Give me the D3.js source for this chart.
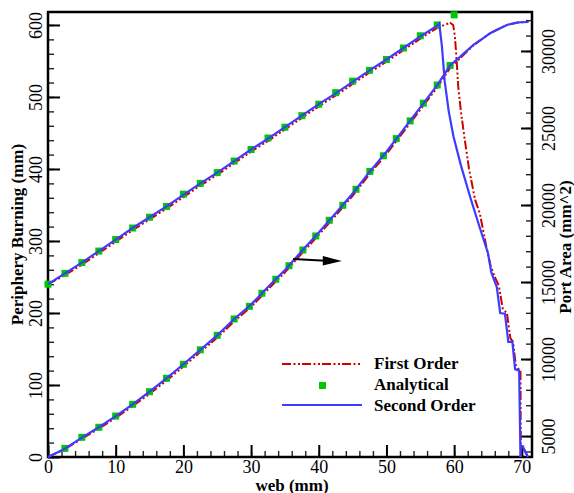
<!DOCTYPE html>
<html>
<head>
<meta charset="utf-8">
<script src="https://cdn.jsdelivr.net/npm/d3@7"></script>
<style>
body{margin:0;background:#fff;}
svg{display:block;}
text{font-family:"Liberation Serif","Times New Roman",serif;fill:#000;}
</style>
</head>
<body>
<svg id="burnChart" width="574" height="493"></svg>
<script>
// analytical squares, periphery (left axis)
var analyticBurnWeb = [0, 2.5, 5, 7.5, 10, 12.5, 15, 17.5, 20, 22.5, 25, 27.5, 30, 32.5, 35, 37.5, 40, 42.5, 45, 47.5, 50, 52.5, 55, 57.5, 60];
var analyticBurn = [240, 255, 270, 286, 302, 318, 333, 348, 365, 380, 395, 411, 427, 443, 458, 474, 490, 506, 522, 537, 552, 568, 585, 600, 614];

// analytical squares, port area (right axis)
var analyticAreaWeb = [2.5, 5, 7.5, 10, 12.5, 15, 17.5, 20, 22.5, 25, 27.5, 29.75, 31.6, 33.65, 35.6, 37.65, 39.55, 41.55, 43.55, 45.5, 47.55, 49.55, 51.45, 53.5, 55.45, 57.5, 59.4];
var analyticArea = [4200, 4920, 5570, 6300, 7060, 7880, 8750, 9660, 10600, 11540, 12600, 13420, 14270, 15180, 16060, 17080, 17990, 19010, 19980, 21020, 22180, 23200, 24310, 25460, 26610, 27790, 29060];

// second order, periphery
var secondBurnWeb = [0, 2.5, 5, 7.5, 10, 12.5, 15, 17.5, 20, 22.5, 25, 27.5, 30, 32.5, 35, 37.5, 40, 42.5, 45, 47.5, 50, 52.5, 55, 57.5, 57.8, 58.2, 58.6, 59.2, 59.9, 61.0, 62.4, 63.8, 65.0, 65.5, 66.3, 66.8, 67.5, 68.0, 68.6, 69.0, 69.6, 69.8, 69.85, 70.1, 70.9];
var secondBurn = [240, 255, 270, 286, 302, 318, 333, 348, 364, 380, 395, 411, 427, 442, 458, 474, 490, 505, 521, 537, 552, 568, 584, 599, 602, 570, 522, 480, 445, 405, 360, 318, 283, 256, 236, 200, 199, 160, 160, 122, 120, 0, 15, 15, 0];

// first order, periphery
var firstBurnWeb = [0, 2.5, 5, 7.5, 10, 12.5, 15, 17.5, 20, 22.5, 25, 27.5, 30, 32.5, 35, 37.5, 40, 42.5, 45, 47.5, 50, 52.5, 55, 57.5, 59.4, 59.85, 60.1, 60.3, 60.6, 61.0, 61.5, 62.2, 63.1, 63.8, 64.8, 65.4, 66.0, 66.6, 67.2, 67.8, 68.3, 68.7, 69.1, 69.6, 69.8, 69.85, 69.9, 70.1, 70.9];
var firstBurn = [240, 252.5, 267, 283, 299, 315, 330, 345, 361, 377, 392, 408, 424, 439, 455, 471, 487, 502, 518, 534, 549, 565, 581, 596, 603, 600, 585, 560, 515, 480, 445, 400, 357, 338, 290, 265, 250, 238, 205, 200, 165, 160, 128, 121, 119, 0, 15, 15, 0];

// second order, port area
var secondAreaWeb = [0, 2.5, 5, 7.5, 10, 12.5, 15, 17.5, 20, 22.5, 25, 27.5, 30, 32.5, 35, 37.5, 40, 42.5, 45, 47.5, 50, 52.5, 55, 57.5, 59.4, 60.9, 62.85, 64.3, 65.3, 66.8, 67.8, 69.3, 69.8, 71];
var secondArea = [3640, 4180, 4900, 5570, 6290, 7060, 7880, 8750, 9660, 10600, 11540, 12600, 13540, 14670, 15780, 17010, 18210, 19470, 20750, 22150, 23460, 24890, 26340, 27780, 29060, 29630, 30390, 30830, 31150, 31480, 31690, 31840, 31865, 31880];

// first order, port area
var firstAreaWeb = [0, 2.5, 5, 7.5, 10, 12.5, 15, 17.5, 20, 22.5, 25, 27.5, 30, 32.5, 35, 37.5, 40, 42.5, 45, 47.5, 50, 52.5, 55, 57.5, 59.4, 60.9, 62.85, 64.3, 65.3, 66.8, 67.8, 69.3, 69.8, 71];
var firstArea = [3640, 4150, 4830, 5480, 6180, 6940, 7740, 8600, 9510, 10450, 11390, 12450, 13390, 14520, 15630, 16860, 18060, 19320, 20600, 22000, 23310, 24740, 26190, 27630, 28900, 29540, 30370, 30830, 31150, 31480, 31690, 31840, 31865, 31880];

// arrow pointing to the right axis curve: [web, area]
var arrowFrom = [36.2, 16490];
var arrowTo = [43.4, 16360];

var legendLabels = ["First Order", "Analytical", "Second Order"];

class burnChart{
  constructor(){
    this.margins = {left:48, right:42, top:12, bottom:36};
    this.width = 574 - this.margins.left - this.margins.right;
    this.height = 493 - this.margins.top - this.margins.bottom;
    this.svg = d3.select("#burnChart");
    this.canvas = this.svg.append("g")
      .attr("transform", "translate(" + this.margins.left + "," + this.margins.top + ")");

    this.x = d3.scaleLinear().domain([0, 71.5]).range([0, this.width]);
    this.yLeft = d3.scaleLinear().domain([0, 618]).range([this.height, 0]);
    this.yRight = d3.scaleLinear().domain([3640, 32530]).range([this.height, 0]);
  }

  axes(){
    var c = this.canvas, w = this.width, h = this.height;

    // minor ticks
    c.append("g").attr("class","minor")
      .attr("transform","translate(0," + h + ")")
      .call(d3.axisBottom(this.x).tickValues(d3.range(0, 71, 2)).tickSize(-6).tickFormat(""));
    c.append("g").attr("class","minor")
      .call(d3.axisLeft(this.yLeft).tickValues(d3.range(0, 619, 20)).tickSize(-6).tickFormat(""));
    c.append("g").attr("class","minor")
      .attr("transform","translate(" + w + ",0)")
      .call(d3.axisRight(this.yRight).tickValues(d3.range(4000, 32600, 1000)).tickSize(-6).tickFormat(""));

    // major ticks + labels
    var bx = c.append("g").attr("class","major")
      .attr("transform","translate(0," + h + ")")
      .call(d3.axisBottom(this.x).tickValues(d3.range(0, 71, 10)).tickSize(-12).tickFormat(d3.format("d")));
    bx.selectAll("text").attr("y", 16).attr("dy", null);

    var ly = c.append("g").attr("class","major")
      .call(d3.axisLeft(this.yLeft).tickValues(d3.range(0, 601, 100)).tickSize(-12).tickFormat(d3.format("d")));
    ly.selectAll("text").attr("x", null).attr("dy", null)
      .attr("text-anchor","middle")
      .attr("transform","translate(-6,0) rotate(-90)");

    var ry = c.append("g").attr("class","major")
      .attr("transform","translate(" + w + ",0)")
      .call(d3.axisRight(this.yRight).tickValues(d3.range(5000, 30001, 5000)).tickSize(-11).tickFormat(d3.format("d")));
    ry.selectAll("text").attr("x", null).attr("dy", null)
      .attr("text-anchor","middle")
      .attr("transform","translate(23,0) rotate(-90)");

    c.selectAll(".domain").remove();
    c.selectAll(".major").attr("font-family", null).attr("font-size", null);
    c.selectAll(".major text").style("font-size","18px").style("font-family",'"Liberation Serif",serif');
    c.selectAll(".major line").style("stroke","#000").style("stroke-width",2);
    c.selectAll(".minor line").style("stroke","#222").style("stroke-width",1.4);

    c.append("rect")
      .attr("width", w).attr("height", h)
      .style("fill","none").style("stroke","#000").style("stroke-width",2.5);

    // titles
    this.svg.append("text")
      .attr("transform","translate(23," + (this.margins.top + h/2) + ") rotate(-90)")
      .attr("text-anchor","middle")
      .style("font-size","17px").style("font-weight","bold")
      .text("Periphery Burning (mm)");
    this.svg.append("text")
      .attr("transform","translate(571,247) rotate(-90)")
      .attr("text-anchor","middle")
      .style("font-size","17px").style("font-weight","bold")
      .text("Port Area (mm^2)");
    this.svg.append("text")
      .attr("x", 292).attr("y", 491)
      .attr("text-anchor","middle")
      .style("font-size","17px").style("font-weight","bold")
      .text("web (mm)");
  }

  series(){
    var plot = this;
    var c = this.canvas;
    var zip = function(a, b){ return a.map(function(d, i){ return [d, b[i]]; }); };

    var lineLeft = d3.line()
      .x(function(d){ return plot.x(d[0]); })
      .y(function(d){ return plot.yLeft(d[1]); });
    var lineRight = d3.line()
      .x(function(d){ return plot.x(d[0]); })
      .y(function(d){ return plot.yRight(d[1]); });

    var red = "#d00000", blue = "#3c3cff", green = "#00c800";
    var dash = "9,2.5,2,2.5,2,2";

    c.append("path").datum(zip(firstBurnWeb, firstBurn))
      .attr("d", lineLeft)
      .style("fill","none").style("stroke",red).style("stroke-width",2).style("stroke-dasharray",dash);
    c.append("path").datum(zip(firstAreaWeb, firstArea))
      .attr("d", lineRight)
      .style("fill","none").style("stroke",red).style("stroke-width",2).style("stroke-dasharray",dash);

    c.selectAll(".sqBurn").data(zip(analyticBurnWeb, analyticBurn)).enter()
      .append("rect").attr("class","sqBurn")
      .attr("x", function(d){ return plot.x(d[0]) - 3.5; })
      .attr("y", function(d){ return plot.yLeft(d[1]) - 3.5; })
      .attr("width", 7).attr("height", 7)
      .style("fill", green);
    c.selectAll(".sqArea").data(zip(analyticAreaWeb, analyticArea)).enter()
      .append("rect").attr("class","sqArea")
      .attr("x", function(d){ return plot.x(d[0]) - 3.5; })
      .attr("y", function(d){ return plot.yRight(d[1]) - 3.5; })
      .attr("width", 7).attr("height", 7)
      .style("fill", green);

    c.append("path").datum(zip(secondBurnWeb, secondBurn))
      .attr("d", lineLeft)
      .style("fill","none").style("stroke",blue).style("stroke-width",2.2);
    c.append("path").datum(zip(secondAreaWeb, secondArea))
      .attr("d", lineRight)
      .style("fill","none").style("stroke",blue).style("stroke-width",2.2);

    // arrow
    var ax1 = this.x(arrowFrom[0]), ay1 = this.yRight(arrowFrom[1]);
    var ax2 = this.x(arrowTo[0]), ay2 = this.yRight(arrowTo[1]);
    c.append("line")
      .attr("x1", ax1).attr("y1", ay1).attr("x2", ax2 - 16).attr("y2", ay2 - 0.3)
      .style("stroke","#000").style("stroke-width",2);
    c.append("path")
      .attr("d", "M" + ax2 + "," + ay2 + "L" + (ax2 - 19) + "," + (ay2 - 5) + "L" + (ax2 - 19) + "," + (ay2 + 4.5) + "Z")
      .style("fill","#000");

    // legend
    var lg = this.svg.append("g");
    lg.append("line").attr("x1",282).attr("x2",362).attr("y1",364).attr("y2",364)
      .style("stroke",red).style("stroke-width",2).style("stroke-dasharray",dash);
    lg.append("rect").attr("x",319).attr("y",382).attr("width",7).attr("height",7).style("fill",green);
    lg.append("line").attr("x1",282).attr("x2",362).attr("y1",405).attr("y2",405)
      .style("stroke",blue).style("stroke-width",2.2);
    lg.selectAll(".lgText").data(legendLabels).enter()
      .append("text").attr("class","lgText")
      .attr("x", 374)
      .attr("y", function(d, i){ return 369 + i*20.8; })
      .style("font-size","17px").style("font-weight","bold")
      .text(function(d){ return d; });
  }
}

var chart = new burnChart();
chart.axes();
chart.series();
</script>
</body>
</html>
